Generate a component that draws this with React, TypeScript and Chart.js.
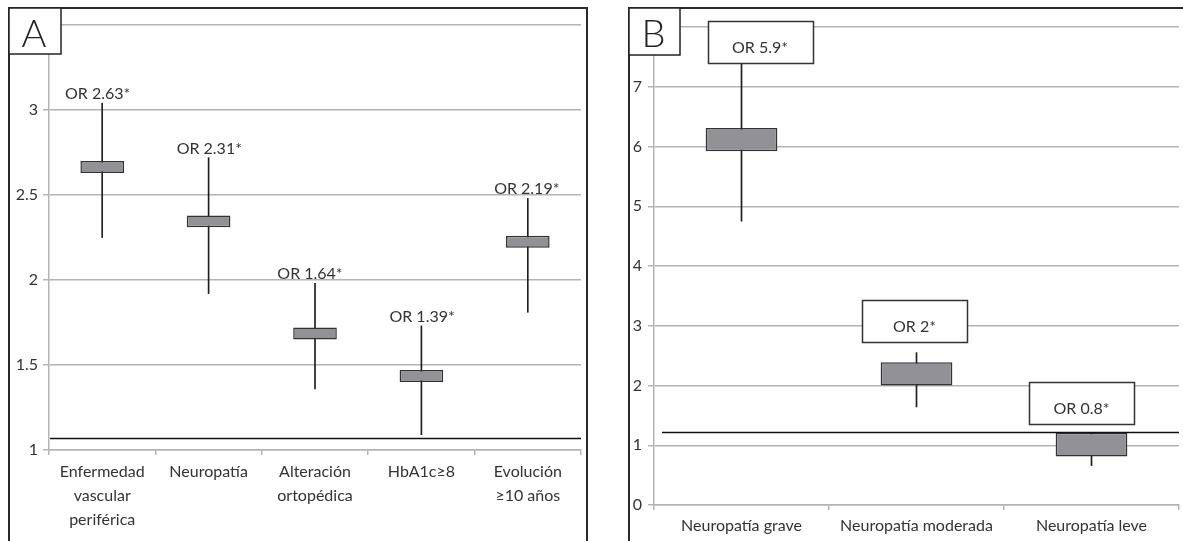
import React, { useEffect, useRef } from "react";
import { Chart, registerables } from "chart.js";

Chart.register(...registerables);

// ---------- Panel A data ----------
const categoriesA: (string | string[])[] = [
  ["Enfermedad", "vascular", "periférica"],
  "Neuropatía",
  ["Alteración", "ortopédica"],
  "HbA1c≥8",
  ["Evolución", "≥10 años"],
];
const whiskerLowA = [2.25, 1.92, 1.36, 1.09, 1.81];
const whiskerHighA = [3.04, 2.72, 1.98, 1.73, 2.48];
const boxLowA = [2.63, 2.31, 1.65, 1.4, 2.19];
const boxHighA = [2.7, 2.38, 1.72, 1.47, 2.26];
const orLabelsA = ["OR 2.63*", "OR 2.31*", "OR 1.64*", "OR 1.39*", "OR 2.19*"];
const refLineA = 1.07;
const yMinA = 1;
const yMaxA = 3.5;
const yStepA = 0.5;

// ---------- Panel B data ----------
const categoriesB = ["Neuropatía grave", "Neuropatía moderada", "Neuropatía leve"];
const whiskerLowB = [4.75, 1.64, 0.66];
const whiskerHighB = [7.45, 2.55, 1.21];
const boxLowB = [5.92, 2.0, 0.81];
const boxHighB = [6.31, 2.39, 1.21];
const orLabelsB = ["OR 5.9*", "OR 2*", "OR 0.8*"];
const labelBoxBaseB = [7.4, 2.72, 1.36];
const refLineB = 1.22;
const yMinB = 0;
const yMaxB = 8;
const yStepB = 1;

// ---------- layout / style (not data) ----------
const FONT = "Lato, 'Open Sans', sans-serif";
const TEXT = "#333333";
const GRID = "#b4b4b4";
const BOX_FILL = "#929296";
const labelShiftA = [-4.5, 0.7, -5, 0.7, -1];
const labelShiftB = [18.5, -2, -10];

type PanelCfg = {
  letter: string;
  left: number;
  width: number;
  padding: { top: number; right: number; left: number; bottom: number };
  yWidth: number;
  xHeight: number;
  xPadding: number;
  xLineHeight: number;
  yPadding: number;
  categories: (string | string[])[];
  wLow: number[];
  wHigh: number[];
  bLow: number[];
  bHigh: number[];
  labels: string[];
  labelShift: number[];
  labelBoxBase?: number[];
  refLine: number;
  refStart: number;
  yMin: number;
  yMax: number;
  yStep: number;
  border: { left: number; top: number; right?: number };
  letterBox: { x: number; y: number; w: number; h: number };
};

const panelA: PanelCfg = {
  letter: "A",
  left: 0,
  width: 592,
  padding: { top: 25, right: 11, left: 0, bottom: 0 },
  yWidth: 49,
  xHeight: 91,
  xPadding: 5,
  xLineHeight: 1.5,
  yPadding: 5,
  categories: categoriesA,
  wLow: whiskerLowA,
  wHigh: whiskerHighA,
  bLow: boxLowA,
  bHigh: boxHighA,
  labels: orLabelsA,
  labelShift: labelShiftA,
  refLine: refLineA,
  refStart: 1,
  yMin: yMinA,
  yMax: yMaxA,
  yStep: yStepA,
  border: { left: 9, top: 8, right: 587 },
  letterBox: { x: 9, y: 8, w: 52, h: 46 },
};

const panelB: PanelCfg = {
  letter: "B",
  left: 592,
  width: 591,
  padding: { top: 27, right: 4, left: 0, bottom: 0 },
  yWidth: 62,
  xHeight: 36,
  xPadding: 6,
  xLineHeight: 1.2,
  yPadding: 6,
  categories: categoriesB,
  wLow: whiskerLowB,
  wHigh: whiskerHighB,
  bLow: boxLowB,
  bHigh: boxHighB,
  labels: orLabelsB,
  labelShift: labelShiftB,
  labelBoxBase: labelBoxBaseB,
  refLine: refLineB,
  refStart: 8,
  yMin: yMinB,
  yMax: yMaxB,
  yStep: yStepB,
  border: { left: 37, top: 8 },
  letterBox: { x: 37, y: 8, w: 51, h: 47 },
};

function decorPlugin(cfg: PanelCfg) {
  return {
    id: "decor" + cfg.letter,
    afterDatasetsDraw(chart: any) {
      const { ctx, chartArea } = chart;
      const y = chart.scales.y;
      const meta = chart.getDatasetMeta(1);
      ctx.save();
      // reference line
      const ry = Math.round(y.getPixelForValue(cfg.refLine)) + 0.5;
      ctx.strokeStyle = "#111";
      ctx.lineWidth = 1.6;
      ctx.beginPath();
      ctx.moveTo(chartArea.left + cfg.refStart, ry);
      ctx.lineTo(chartArea.right, ry);
      ctx.stroke();

      ctx.font = `16px ${FONT}`;
      ctx.fillStyle = TEXT;
      ctx.textAlign = "center";
      ctx.textBaseline = "alphabetic";
      cfg.labels.forEach((lab, i) => {
        const el = meta.data[i];
        const cx = el.x + cfg.labelShift[i];
        if (cfg.labelBoxBase) {
          const bottom = y.getPixelForValue(cfg.labelBoxBase[i]);
          const w = 105;
          const h = 42;
          const bx = Math.round(cx - w / 2) + 0.5;
          const by = Math.round(bottom - h) + 0.5;
          ctx.fillStyle = "#ffffff";
          ctx.fillRect(bx, by, w, h);
          ctx.strokeStyle = "#333";
          ctx.lineWidth = 1.5;
          ctx.strokeRect(bx, by, w, h);
          ctx.fillStyle = TEXT;
          ctx.fillText(lab, cx, bottom - 10);
        } else {
          const top = y.getPixelForValue(cfg.wHigh[i]);
          ctx.fillText(lab, cx, top - 4);
        }
      });
      ctx.restore();
    },
    afterDraw(chart: any) {
      const { ctx, height } = chart;
      ctx.save();
      ctx.strokeStyle = "#2a2a2a";
      ctx.lineWidth = 2;
      ctx.beginPath();
      ctx.moveTo(cfg.border.left, height + 2);
      ctx.lineTo(cfg.border.left, cfg.border.top);
      if (cfg.border.right !== undefined) {
        ctx.lineTo(cfg.border.right, cfg.border.top);
        ctx.lineTo(cfg.border.right, height + 2);
      } else {
        ctx.lineTo(chart.width + 2, cfg.border.top);
      }
      ctx.stroke();
      const lb = cfg.letterBox;
      ctx.fillStyle = "#ffffff";
      ctx.fillRect(lb.x, lb.y, lb.w, lb.h);
      ctx.strokeStyle = "#222";
      ctx.lineWidth = 1.5;
      ctx.strokeRect(lb.x, lb.y, lb.w, lb.h);
      ctx.fillStyle = "#222";
      ctx.font = `300 38px ${FONT}`;
      ctx.textAlign = "center";
      ctx.textBaseline = "alphabetic";
      ctx.fillText(cfg.letter, lb.x + lb.w / 2 - 1, lb.y + 39);
      ctx.restore();
    },
  };
}

function Panel({ cfg }: { cfg: PanelCfg }) {
  const ref = useRef<HTMLCanvasElement | null>(null);
  useEffect(() => {
    if (!ref.current) return;
    const whiskers = cfg.wLow.map((lo, i) => [lo, cfg.wHigh[i]]);
    const boxes = cfg.bLow.map((lo, i) => [lo, cfg.bHigh[i]]);
    const chart = new Chart(ref.current, {
      type: "bar",
      data: {
        labels: cfg.categories as any,
        datasets: [
          {
            label: "box",
            data: boxes as any,
            backgroundColor: BOX_FILL,
            borderColor: "#333333",
            borderWidth: 1.5,
            borderSkipped: false,
            barPercentage: 0.41,
            categoryPercentage: 1,
            grouped: false,
            order: 0,
          } as any,
          {
            label: "whisker",
            data: whiskers as any,
            backgroundColor: "#1e1e1e",
            borderWidth: 0,
            barThickness: 1,
            grouped: false,
            order: 1,
          } as any,
        ],
      },
      options: {
        animation: false,
        responsive: true,
        maintainAspectRatio: false,
        layout: { padding: cfg.padding },
        plugins: {
          legend: { display: false },
          tooltip: { enabled: false },
        },
        scales: {
          x: {
            offset: true,
            grid: {
              offset: true,
              drawOnChartArea: false,
              drawTicks: true,
              tickLength: 5,
              color: GRID,
              lineWidth: 1.5,
            },
            border: { display: true, color: GRID, width: 1.5 },
            ticks: {
              autoSkip: false,
              maxRotation: 0,
              minRotation: 0,
              padding: cfg.xPadding,
              color: TEXT,
              font: { family: FONT, size: 16, lineHeight: cfg.xLineHeight },
            },
            afterFit: (s: any) => {
              s.height = cfg.xHeight;
            },
          },
          y: {
            min: cfg.yMin,
            max: cfg.yMax,
            grid: {
              color: GRID,
              lineWidth: 1.5,
              drawTicks: true,
              tickLength: 6,
            },
            border: { display: true, color: GRID, width: 1.5 },
            ticks: {
              stepSize: cfg.yStep,
              padding: cfg.yPadding,
              color: TEXT,
              font: { family: FONT, size: 16 },
              callback: (v: any) => String(Number(v)),
            },
            afterFit: (s: any) => {
              s.width = cfg.yWidth;
            },
          },
        },
      } as any,
      plugins: [decorPlugin(cfg)],
    });
    return () => chart.destroy();
  }, [cfg]);
  return (
    <div
      style={{
        position: "absolute",
        left: cfg.left,
        top: 0,
        width: cfg.width,
        height: 541,
      }}
    >
      <canvas ref={ref} />
    </div>
  );
}

export default function App() {
  return (
    <div
      style={{
        position: "fixed",
        left: 0,
        top: 0,
        width: 1183,
        height: 541,
        background: "#ffffff",
        overflow: "hidden",
      }}
    >
      <Panel cfg={panelA} />
      <Panel cfg={panelB} />
    </div>
  );
}
